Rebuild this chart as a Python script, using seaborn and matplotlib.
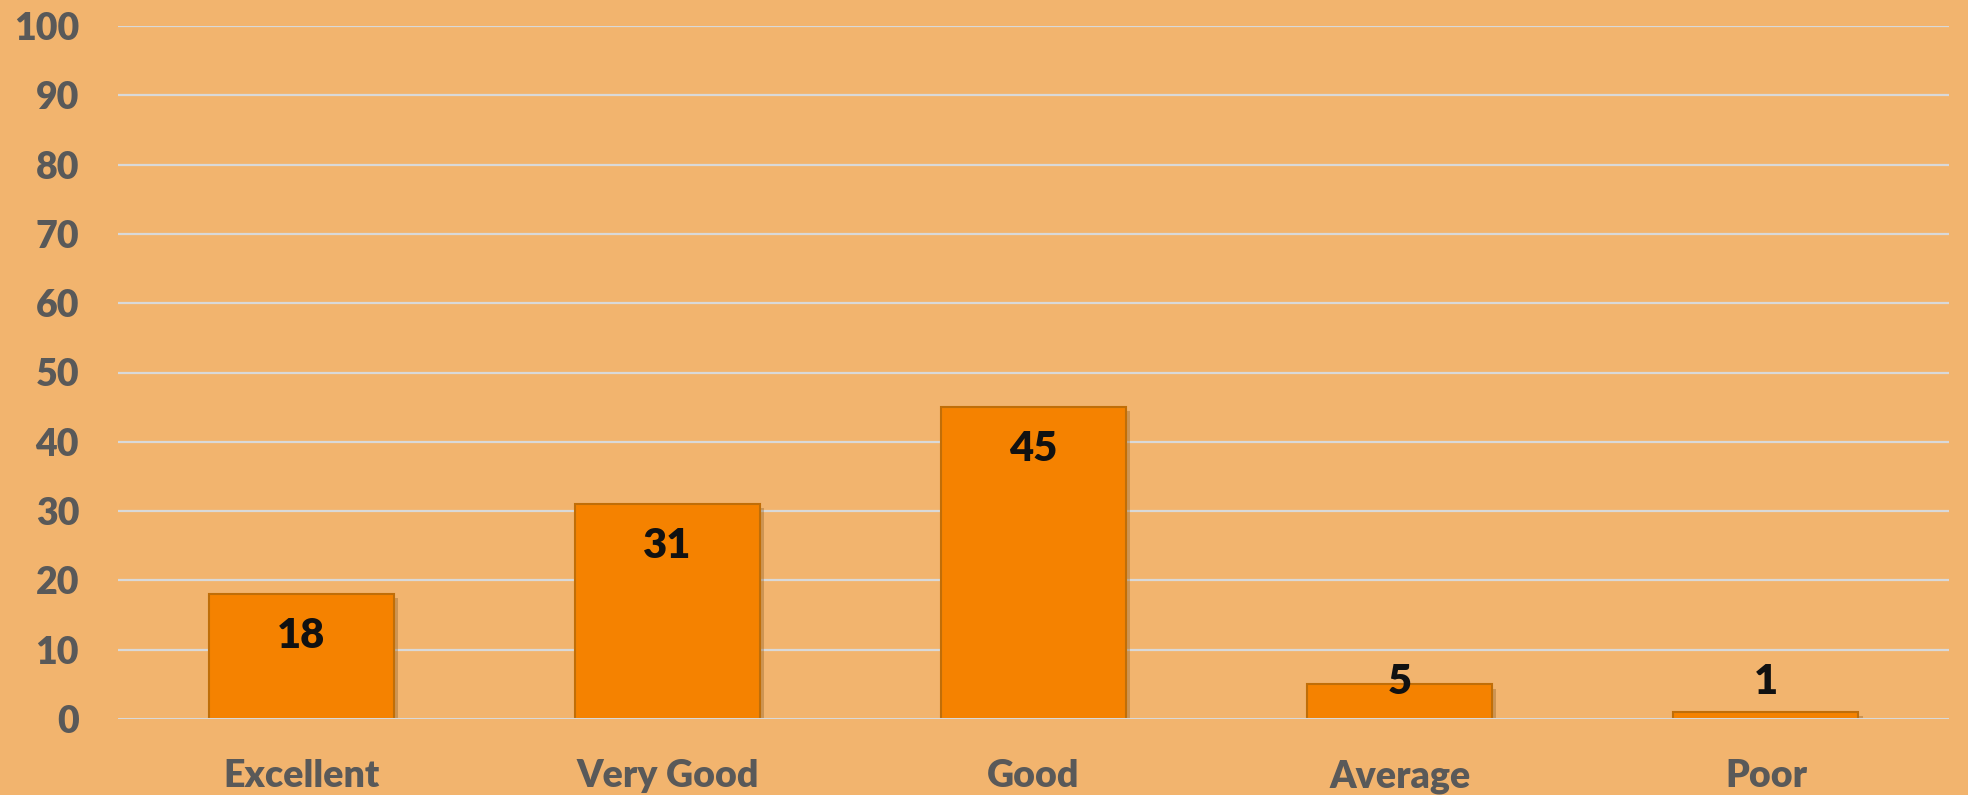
import numpy as np
import pandas as pd
import matplotlib
matplotlib.use("Agg")
import matplotlib.pyplot as plt
import matplotlib.patheffects as pe
import seaborn as sns

# data
ratings = ["Excellent", "Very Good", "Good", "Average", "Poor"]
counts = [18, 31, 45, 5, 1]
yticks = [0, 10, 20, 30, 40, 50, 60, 70, 80, 90, 100]

bg = "#F2B46E"
bar_color = "#F58200"
edge_color = "#C06E08"
grid_color = "#D9D9D9"
text_gray = "#595959"

sns.set_theme(style="white")
plt.rcParams["font.family"] = ["Lato", "DejaVu Sans"]

df = pd.DataFrame({"rating": ratings, "count": counts})

fig = plt.figure(figsize=(19.68, 7.95), dpi=100)
fig.patch.set_facecolor(bg)
ax = fig.add_axes([118 / 1968, 1 - 719 / 795, (1949 - 118) / 1968, (719 - 26) / 795])
ax.set_facecolor(bg)

sns.barplot(data=df, x="rating", y="count", color=bar_color, saturation=1,
            width=0.505, edgecolor=edge_color, linewidth=1.5, ax=ax, zorder=3)

shadow = [pe.SimplePatchShadow(offset=(3, -3), shadow_rgbFace="#8a5a20", alpha=0.35), pe.Normal()]
for p in ax.patches:
    p.set_path_effects(shadow)

# gridlines
ax.set_ylim(0, 100)
ax.set_yticks(yticks)
for t in yticks:
    ax.axhline(t, color=grid_color, lw=2.2 if t == 0 else 1.6, zorder=1 if t else 4)

# value labels inside the bar end
for i, v in enumerate(counts):
    ax.text(i, max(v - 6, 5.3), str(v), ha="center", va="center",
            fontsize=30, fontweight="heavy", color="#111111", zorder=5)

for s in ax.spines.values():
    s.set_visible(False)
ax.tick_params(axis="both", length=0, labelsize=27, labelcolor=text_gray)
ax.tick_params(axis="y", pad=28)
ax.tick_params(axis="x", pad=29)
for lbl in ax.get_xticklabels() + ax.get_yticklabels():
    lbl.set_fontweight("heavy")
ax.set_xlabel("")
ax.set_ylabel("")
ax.grid(False)

fig.savefig("out.png", dpi=100, facecolor=bg)
